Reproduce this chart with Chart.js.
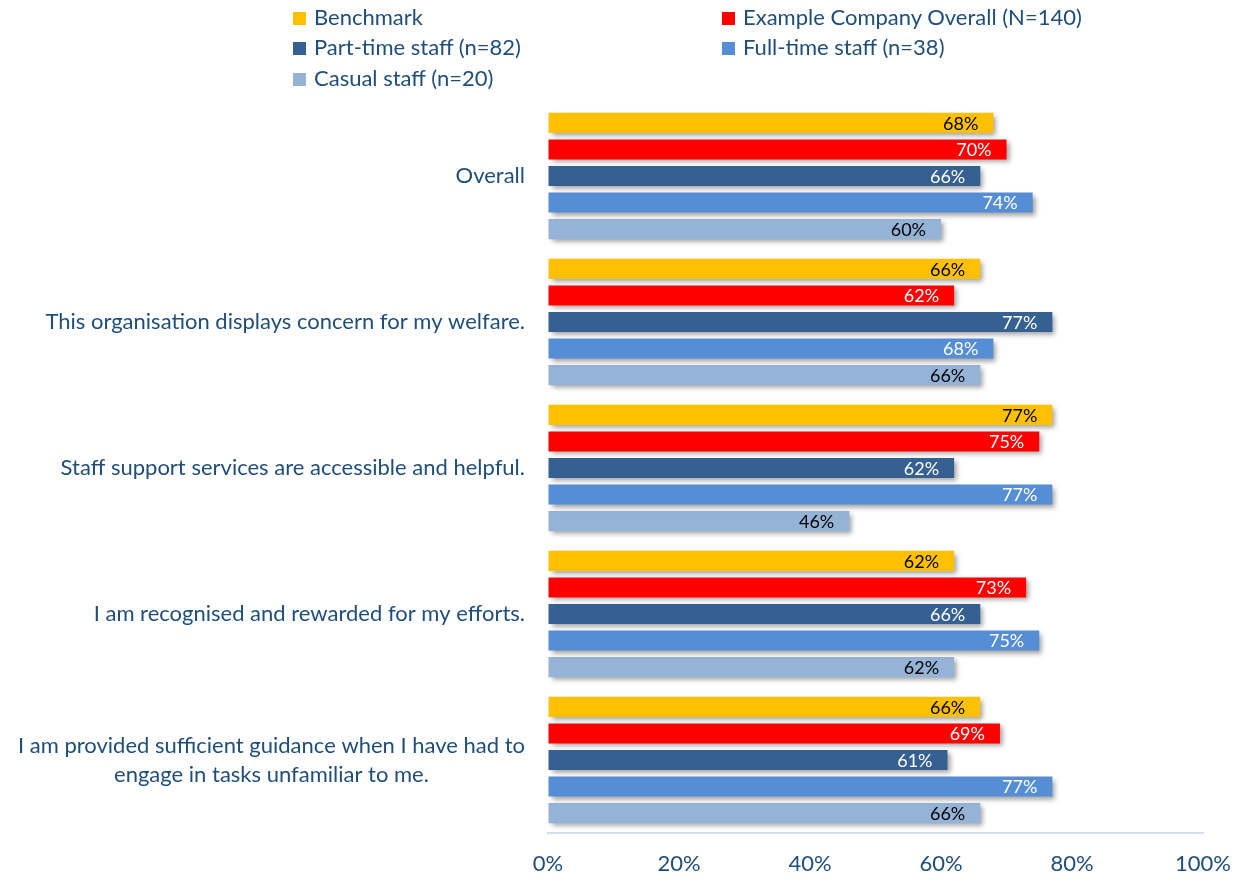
<!DOCTYPE html>
<html>
<head>
<meta charset="utf-8">
<script src="https://cdn.jsdelivr.net/npm/chart.js@4.4.1/dist/chart.umd.min.js"></script>
<style>
  html, body { margin: 0; padding: 0; background: #ffffff; }
  #wrap { position: relative; width: 1243px; height: 882px; overflow: hidden; }
  #c { position: absolute; left: 0; top: 0; }
  .lg { position: absolute; font-family: Lato, "Open Sans", sans-serif; font-size: 22px; color: #1F4E79; white-space: nowrap; line-height: 22px; }
  .lg i { display: inline-block; width: 13px; height: 13px; margin-right: 8px; vertical-align: 0px; }
</style>
</head>
<body>
<div id="wrap">
  <canvas id="c" width="1243" height="882"></canvas>
</div>
<script>
const categories = [
  "Overall",
  "This organisation displays concern for my welfare.",
  "Staff support services are accessible and helpful.",
  "I am recognised and rewarded for my efforts.",
  ["I am provided sufficient guidance when I have had to", "engage in tasks unfamiliar to me."]
];
const seriesNames = [
  "Benchmark",
  "Example Company Overall (N=140)",
  "Part-time staff (n=82)",
  "Full-time staff (n=38)",
  "Casual staff (n=20)"
];
const benchmark   = [68, 66, 77, 62, 66];
const companyAll  = [70, 62, 75, 73, 69];
const partTime    = [66, 77, 62, 66, 61];
const fullTime    = [74, 68, 77, 75, 77];
const casual      = [60, 66, 46, 62, 66];
const tickValues  = [0, 20, 40, 60, 80, 100];

const colors      = ["#FFC000", "#FF0000", "#376092", "#558ED5", "#95B3D7"];
const labelColors = ["#000000", "#FFFFFF", "#FFFFFF", "#FFFFFF", "#000000"];
const seriesValues = [benchmark, companyAll, partTime, fullTime, casual];

const FONT = "Lato, 'Open Sans', sans-serif";
const TEXT = "#1F4E79";

// HTML legend (two columns)
const legendPos = [[293, 6], [722, 6], [293, 36], [722, 36], [293, 67]];
const wrap = document.getElementById("wrap");
seriesNames.forEach((n, i) => {
  const d = document.createElement("div");
  d.className = "lg";
  d.style.left = legendPos[i][0] + "px";
  d.style.top = legendPos[i][1] + "px";
  const sw = document.createElement("i");
  sw.style.background = colors[i];
  d.appendChild(sw);
  d.appendChild(document.createTextNode(n));
  wrap.appendChild(d);
});

const shadowPlugin = {
  id: "barShadow",
  beforeDatasetDraw(chart) {
    const ctx = chart.ctx;
    ctx.save();
    ctx.shadowColor = "rgba(0,0,0,0.38)";
    ctx.shadowBlur = 5;
    ctx.shadowOffsetX = 3;
    ctx.shadowOffsetY = 3;
  },
  afterDatasetDraw(chart) {
    chart.ctx.restore();
  }
};

const labelPlugin = {
  id: "barLabels",
  afterDatasetsDraw(chart) {
    const ctx = chart.ctx;
    ctx.save();
    ctx.font = "18px " + FONT;
    ctx.textAlign = "right";
    ctx.textBaseline = "middle";
    chart.data.datasets.forEach((ds, i) => {
      const meta = chart.getDatasetMeta(i);
      ctx.fillStyle = labelColors[i];
      meta.data.forEach((bar, j) => {
        ctx.fillText(ds.data[j] + "%", bar.x - 15, bar.y + 1);
      });
    });
    ctx.restore();
  }
};

// Category labels: block right-aligned at the axis, lines centred within the block
const catLabelPlugin = {
  id: "catLabels",
  afterDraw(chart) {
    const ctx = chart.ctx;
    const ys = chart.scales.y;
    const right = ys.right - 23;
    const lh = 29;
    ctx.save();
    ctx.font = "22px " + FONT;
    ctx.fillStyle = TEXT;
    ctx.textAlign = "center";
    ctx.textBaseline = "middle";
    chart.data.labels.forEach((lab, i) => {
      const lines = Array.isArray(lab) ? lab : [lab];
      const maxW = Math.max(...lines.map(l => ctx.measureText(l).width));
      const cx = right - maxW / 2;
      const cy = ys.getPixelForTick(i);
      lines.forEach((l, k) => {
        ctx.fillText(l, cx, cy + (k - (lines.length - 1) / 2) * lh);
      });
    });
    ctx.restore();
  }
};

new Chart(document.getElementById("c"), {
  type: "bar",
  data: {
    labels: categories,
    datasets: seriesNames.map((n, i) => ({
      label: n,
      data: seriesValues[i],
      backgroundColor: colors[i],
      borderWidth: 0,
      categoryPercentage: 0.91,
      barPercentage: 0.755
    }))
  },
  options: {
    indexAxis: "y",
    responsive: false,
    animation: false,
    layout: { padding: { top: 103, right: 40, left: 0, bottom: 0 } },
    plugins: {
      legend: { display: false },
      tooltip: { enabled: false }
    },
    scales: {
      x: {
        min: 0, max: 100,
        afterBuildTicks(scale) { scale.ticks = tickValues.map(v => ({ value: v })); },
        afterFit(scale) { scale.height = 49; scale.paddingRight = 0; },
        grid: { display: true, drawOnChartArea: false, drawTicks: false },
        border: { display: true, color: "#D0DEF0", width: 2 },
        ticks: {
          padding: 18,
          color: TEXT,
          font: { family: FONT, size: 22 },
          callback: v => v + "%"
        }
      },
      y: {
        afterFit(scale) { scale.width = 548; },
        grid: { display: false, drawTicks: false },
        border: { display: false },
        ticks: { display: false }
      }
    }
  },
  plugins: [shadowPlugin, labelPlugin, catLabelPlugin]
});
</script>
</body>
</html>
